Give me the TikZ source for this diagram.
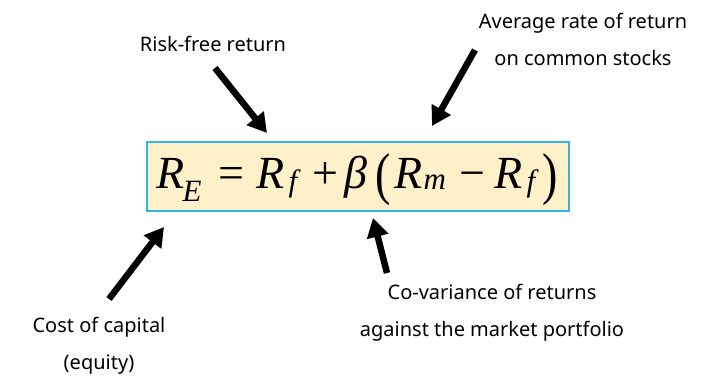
\documentclass[tikz,border=0pt]{standalone}
\usepackage{fontspec}
\setmainfont{Noto Sans}
\newfontfamily\formfont{Liberation Serif}
\usetikzlibrary{arrows.meta}
\definecolor{boxfill}{RGB}{254,240,200}
\definecolor{boxline}{RGB}{51,181,229}
\tikzset{
  lbl/.style={font=\fontsize{20}{37}\selectfont, align=center, inner sep=0pt},
  bigarrow/.style={line width=6.5pt, -{Triangle[length=19pt,width=21pt]}},
  eqbox/.style={draw=boxline, fill=boxfill, line width=1.8pt, minimum width=422pt, minimum height=69pt, inner sep=0pt}
}
% place glyph #2 at horizontal offset #1 from the start of the formula
\newcommand{\gl}[2]{\rlap{\hspace{#1pt}#2}}
\newcommand{\mainsz}{\fontsize{46}{50}\selectfont}
\newcommand{\subsz}{\fontsize{31}{31}\selectfont}
\begin{document}
\begin{tikzpicture}[x=1pt,y=-1pt]
\useasboundingbox (0,0) rectangle (709,377);
\node[eqbox] (box) at (358,176.5) {};
\node[anchor=base west, inner sep=0pt, font=\formfont\mainsz] (eq) at (155,188)
  {\gl{1}{\itshape R}%
   \gl{27}{\raisebox{-13pt}{\subsz\itshape E}}%
   \gl{63}{=}%
   \gl{101}{\itshape R}%
   \gl{133}{\raisebox{-3pt}{\subsz\itshape f}}%
   \gl{157}{+}%
   \gl{189}{\itshape β}%
   \gl{220}{\raisebox{-5pt}{\scalebox{1}[1.25]{(}}}%
   \gl{239}{\itshape R}%
   \gl{268}{\raisebox{-1pt}{\subsz\itshape m}}%
   \gl{304}{−}%
   \gl{339}{\itshape R}%
   \gl{371}{\raisebox{-3pt}{\subsz\itshape f}}%
   \gl{387}{\raisebox{-5pt}{\scalebox{1}[1.25]{)}}}%
   \hspace{403pt}};
\node[lbl] (risk) at (213,44) {Risk-free return};
\node[lbl] (avg) at (583,39) {Average rate of return\\on common stocks};
\node[lbl] (cost) at (99,346) {Cost of capital\\(equity)};
\node[lbl] (cov) at (492,313) {Co-variance of returns\\against the market portfolio};
\coordinate (riskT) at (215,68);
\coordinate (riskH) at (267,133);
\coordinate (avgT) at (475,50);
\coordinate (avgH) at (432,126);
\coordinate (costT) at (109,299);
\coordinate (costH) at (164,227);
\coordinate (covT) at (387,273);
\coordinate (covH) at (373,218);
\draw[bigarrow] (riskT) -- (riskH);
\draw[bigarrow] (avgT) -- (avgH);
\draw[bigarrow] (costT) -- (costH);
\draw[bigarrow] (covT) -- (covH);
\end{tikzpicture}
\end{document}
